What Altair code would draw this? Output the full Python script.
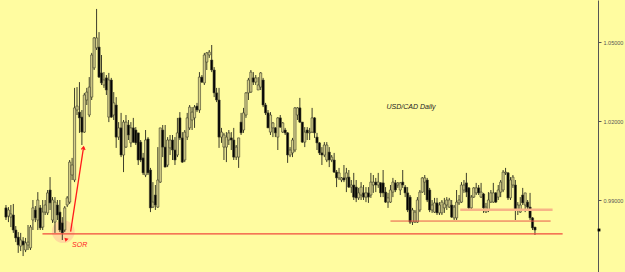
import altair as alt
import pandas as pd

# Daily candles (prices in points, 1 point = 0.0001)
OPEN = [
    9870,9839,9835,9843,9786,9759,9725,9744,9710,9729,9718,9824,9862,9824,9870,9797,9854,9851,9938,9824,9816,9881,9854,9813,9786,9881,9892,9995,9976,10242,10234,10215,10158,10280,10223,10291,10402,
    10478,10481,10383,10337,10364,10215,10356,10223,10261,10139,10174,10071,10101,10185,10117,10174,10166,10155,10120,10060,9995,10132,10014,9873,9919,9873,9968,10166,10101,10033,10098,10128,10090,10071,10212,10136,
    10052,10139,10174,10204,10212,10257,10242,10367,10345,10424,10451,10432,10394,10307,10280,10139,10101,10101,10128,10136,10128,10063,10063,10196,10166,10223,10307,10310,10364,10348,10318,10329,10356,10261,10231,10158,
    10174,10174,10139,10212,10158,10166,10155,10071,10079,10090,10223,10250,10196,10120,10166,10155,10158,10212,10139,10117,10079,10071,10052,10082,10052,10052,10006,9984,9976,9984,9984,9987,9949,9957,9949,9908,
    9919,9927,9911,9927,9919,9957,9968,9957,9965,9965,9930,9892,9892,9930,9965,9957,9938,9968,9949,9927,9911,9816,9816,9816,9862,9930,9968,9976,9938,9862,9854,9889,9851,9851,9870,9881,
    9873,9881,9832,9832,9889,9892,9938,9965,9946,9870,9911,9927,9946,9911,9923,9854,9862,9892,9892,9927,9911,9930,9938,10003,10003,9908,9957,9957,9862,9854,9919,9881,9892,9873,9832,9797,
]
HIGH = [
    9881,9873,9881,9885,9801,9778,9775,9759,9756,9805,9805,9900,9877,9930,9881,9900,9900,9938,9987,9911,9911,9900,9900,9835,9877,9915,10052,10060,10326,10329,10348,10242,10307,10326,10367,10459,10519,
    10626,10538,10451,10386,10375,10383,10364,10310,10291,10196,10231,10204,10223,10204,10196,10212,10177,10155,10128,10079,10166,10139,10022,9968,9957,10101,10174,10185,10185,10139,10147,10147,10139,10212,10234,10158,
    10166,10231,10261,10253,10261,10269,10386,10375,10459,10462,10470,10489,10405,10326,10326,10174,10155,10158,10166,10158,10174,10109,10136,10231,10250,10310,10364,10394,10386,10375,10367,10386,10364,10269,10242,10234,
    10196,10177,10215,10223,10196,10174,10158,10101,10136,10253,10253,10288,10196,10177,10177,10174,10250,10215,10155,10120,10101,10120,10120,10101,10071,10079,10014,10022,9987,10033,10022,10014,9976,10003,9976,9946,
    9968,9957,9949,9949,10003,9995,9984,10003,9968,10014,9949,9927,9957,9984,9976,9968,9968,10014,9957,9949,9919,9870,9862,9911,9938,9987,9995,9984,9946,9900,9908,9908,9892,9900,9908,9911,
    9908,9900,9881,9938,9919,9968,9976,10003,9949,9919,9949,9965,9957,9965,9927,9889,9930,9938,9965,9930,9957,9976,10014,10022,10006,9987,9995,9976,9892,9911,9946,9927,9900,9927,9835,9797,
]
LOW = [
    9824,9816,9797,9775,9740,9699,9706,9687,9702,9710,9710,9786,9816,9786,9786,9786,9843,9843,9862,9813,9775,9824,9778,9748,9778,9873,9885,9976,9968,10223,10155,10109,10155,10261,10215,10280,10394,
    10470,10364,10337,10326,10299,10196,10212,10204,10098,10128,10063,10006,10098,10128,10101,10117,10109,10033,10044,9995,9987,9995,9854,9870,9862,9870,9965,10063,10025,10025,10071,10052,10033,10063,10128,10041,
    10044,10128,10166,10166,10174,10234,10231,10345,10337,10394,10440,10386,10291,10272,10098,10117,10052,10044,10109,10090,10052,10052,10022,10147,10155,10212,10280,10307,10337,10337,10318,10318,10253,10223,10174,10147,
    10139,10139,10090,10174,10155,10147,10041,10063,10063,10082,10204,10193,10117,10101,10128,10128,10155,10136,10090,10071,10033,10063,10044,10025,10044,10003,9949,9976,9968,9968,9930,9946,9927,9900,9892,9900,
    9900,9900,9892,9889,9908,9927,9930,9946,9911,9911,9889,9870,9889,9911,9930,9946,9919,9946,9911,9854,9809,9805,9813,9813,9854,9927,9919,9892,9854,9851,9851,9843,9843,9843,9851,9862,
    9870,9832,9824,9824,9881,9889,9927,9911,9862,9862,9908,9919,9919,9908,9851,9851,9854,9889,9889,9889,9900,9911,9930,9995,9900,9900,9946,9824,9843,9851,9881,9854,9862,9824,9786,9767,
]
CLOSE = [
    9835,9862,9847,9786,9756,9729,9748,9729,9737,9740,9797,9870,9832,9900,9794,9854,9881,9927,9889,9900,9892,9843,9786,9775,9870,9908,10044,10033,10250,10257,10212,10158,10299,10310,10329,10451,10516,
    10516,10367,10345,10356,10318,10356,10215,10269,10139,10174,10071,10196,10196,10147,10174,10120,10117,10052,10052,10003,10128,10003,9870,9892,9881,9976,10174,10101,10025,10128,10128,10090,10052,10155,10136,10044,
    10158,10212,10253,10234,10253,10242,10367,10348,10451,10459,10462,10394,10307,10280,10139,10158,10147,10139,10155,10128,10063,10101,10136,10155,10231,10307,10356,10386,10348,10364,10337,10383,10261,10231,10174,10223,
    10193,10155,10212,10177,10193,10155,10071,10090,10128,10250,10250,10196,10120,10158,10155,10158,10212,10155,10117,10079,10071,10109,10109,10052,10063,10006,9984,10003,9984,9976,10003,9949,9957,9911,9908,9927,
    9949,9911,9927,9911,9968,9968,9957,9968,9927,9927,9892,9908,9938,9968,9938,9965,9965,9957,9927,9862,9816,9862,9854,9900,9930,9984,9984,9900,9862,9881,9889,9851,9881,9892,9885,9900,
    9900,9835,9873,9892,9900,9957,9957,9930,9870,9911,9946,9946,9927,9930,9870,9873,9900,9927,9927,9892,9938,9968,10006,10006,9908,9976,9987,9862,9881,9881,9889,9927,9873,9832,9794,9786,
]

AXIS_TICKS = [0.99, 1.02, 1.05]

# Horizontal levels drawn on the chart
LEVEL_PRICE = [0.9771, 0.9820, 0.9863]
LEVEL_START = [14.9, 157.0, 185.5]
LEVEL_END = [227.3, 222.4, 223.2]
LEVEL_COLOR = ["#f04a3c", "#e8584a", "#f7b487"]
LEVEL_WIDTH = [1.2, 1.0, 2.5]

# SOR annotation
ARROW_DAY = [26.4, 31.7]
ARROW_PRICE = [0.9780, 1.0102]
CIRCLE_DAY, CIRCLE_PRICE = 23.4, 0.9780
ICON_DAY, ICON_PRICE = 24.4, 0.9752
SOR_DAY, SOR_PRICE, SOR_TEXT = 27.0, 0.9729, "SOR"
TITLE_DAY, TITLE_PRICE, TITLE_TEXT = 155.4, 1.0253, "USD/CAD Daily"

n = min(len(OPEN), len(HIGH), len(LOW), len(CLOSE))
df = pd.DataFrame({
    "day": list(range(n)),
    "open": [v / 10000 for v in OPEN[:n]],
    "high": [v / 10000 for v in HIGH[:n]],
    "low": [v / 10000 for v in LOW[:n]],
    "close": [v / 10000 for v in CLOSE[:n]],
})
df["dir"] = ["up" if c >= o else "down" for o, c in zip(df["open"], df["close"])]

xs = alt.Scale(domain=[-0.4, 239.7], nice=False, zero=False)
ys = alt.Scale(domain=[0.96264, 1.0660], nice=False, zero=False)
y_axis = alt.Axis(
    orient="right", values=AXIS_TICKS, format=".5f", title=None, grid=False,
    labelFontSize=5.5, labelFont="Liberation Sans", labelColor="#555555",
    tickColor="#555555", domainColor="#555555", tickSize=3, labelPadding=2)
X = lambda f: alt.X(f, type="quantitative", scale=xs, axis=None)
Y = lambda f: alt.Y(f, type="quantitative", scale=ys, axis=y_axis)

circle = alt.Chart(pd.DataFrame({"d": [CIRCLE_DAY], "p": [CIRCLE_PRICE]})).mark_circle(
    size=520, color="#ffbe9c", opacity=0.55).encode(x=X("d"), y=Y("p"))

wicks = alt.Chart(df).mark_rule(color="#3d3d2a", strokeWidth=1).encode(
    x=X("day"), y=Y("low"), y2="high")

bodies = alt.Chart(df).mark_bar(size=2.2, stroke="#3d3d2a", strokeWidth=0.6).encode(
    x=X("day"),
    y=Y("open"),
    y2="close:Q",
    color=alt.Color("dir:N", scale=alt.Scale(domain=["up", "down"], range=["#d6d08a", "#000000"]), legend=None),
)

levels_df = pd.DataFrame({"p": LEVEL_PRICE, "s": LEVEL_START, "e": LEVEL_END,
                          "c": LEVEL_COLOR, "w": LEVEL_WIDTH})
levels = alt.Chart(levels_df).mark_rule().encode(
    x=X("s"), x2="e", y=Y("p"),
    color=alt.Color("c:N", scale=None),
    strokeWidth=alt.StrokeWidth("w:Q", scale=None))

arrow_df = pd.DataFrame({"d": [ARROW_DAY[0]], "d2": [ARROW_DAY[1]],
                         "p": [ARROW_PRICE[0]], "p2": [ARROW_PRICE[1]]})
arrow = alt.Chart(arrow_df).mark_rule(color="#ff1a1a", strokeWidth=1.3).encode(
    x=X("d"), x2="d2", y=Y("p"), y2="p2")
head = alt.Chart(pd.DataFrame({"d": [ARROW_DAY[1]], "p": [ARROW_PRICE[1]]})).mark_point(
    shape="M -0.6 0.9 L 0 0 L 0.6 0.9", filled=False, color="#ff1a1a",
    strokeWidth=1.2, size=40, angle=9, opacity=1).encode(x=X("d"), y=Y("p"))

icon = alt.Chart(pd.DataFrame({"d": [ICON_DAY], "p": [ICON_PRICE]})).mark_point(
    shape="triangle-up", angle=315, size=18, filled=True, color="#ff1a1a", opacity=1).encode(
    x=X("d"), y=Y("p"))

sor = alt.Chart(pd.DataFrame({"d": [SOR_DAY], "p": [SOR_PRICE], "t": [SOR_TEXT]})).mark_text(
    align="left", baseline="middle", fontSize=7, fontStyle="italic",
    font="Liberation Sans", color="#ff2020").encode(x=X("d"), y=Y("p"), text="t:N")

title = alt.Chart(pd.DataFrame({"d": [TITLE_DAY], "p": [TITLE_PRICE], "t": [TITLE_TEXT]})).mark_text(
    align="left", baseline="middle", fontSize=7, fontStyle="italic",
    font="Liberation Sans", color="#222222").encode(x=X("d"), y=Y("p"), text="t:N")

last = alt.Chart(df.tail(1)).mark_square(size=8, color="#000000", opacity=1).encode(
    x=alt.value(599), y=Y("close"))

chart = alt.layer(circle, wicks, bodies, levels, arrow, head, icon, sor, title, last).properties(
    width=598, height=272, background="#fffca0",
    padding={"left": 0, "right": 27, "top": 0, "bottom": 0},
    autosize=alt.AutoSizeParams(type="none"),
).configure_view(stroke=None)

chart.save("out.html", embed_options={"renderer": "svg", "actions": False})
